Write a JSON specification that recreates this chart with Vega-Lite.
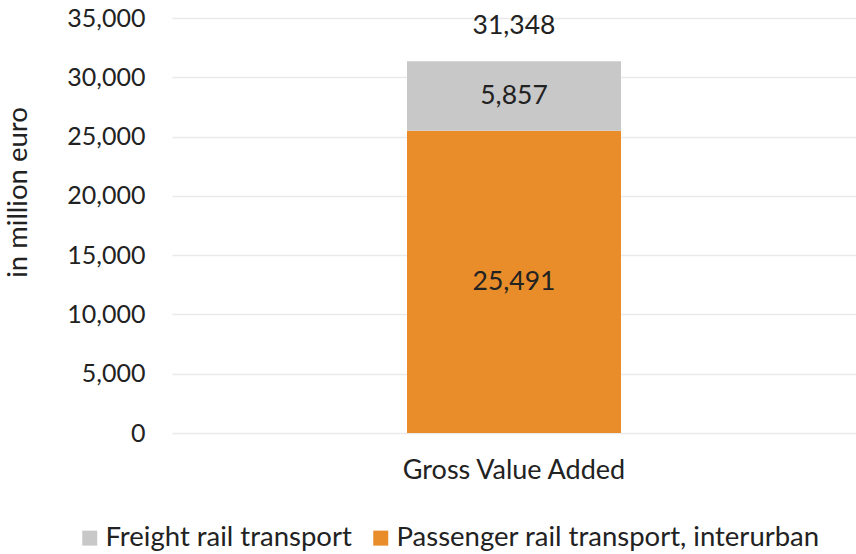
{
  "$schema": "https://vega.github.io/schema/vega-lite/v6.json",
  "autosize": "none",
  "width": 684,
  "height": 415,
  "padding": {"left": 172, "top": 18, "right": 0, "bottom": 121},
  "background": "white",
  "config": {
    "font": "Lato",
    "view": {"stroke": null},
    "axis": {"labelFont": "Lato", "titleFont": "Lato", "labelColor": "#222222", "titleColor": "#222222"}
  },
  "data": {
    "values": [
      {"category": "Gross Value Added", "series": "Passenger rail transport, interurban", "value": 25491},
      {"category": "Gross Value Added", "series": "Freight rail transport", "value": 5857}
    ]
  },
  "encoding": {
    "x": {
      "field": "category",
      "type": "nominal",
      "title": null,
      "axis": {"labelAngle": 0, "labelFontSize": 27, "labelPadding": 24, "labelLimit": 0, "ticks": false, "domain": false}
    }
  },
  "layer": [
    {
      "mark": {"type": "bar", "size": 214},
      "encoding": {
        "y": {
          "field": "value",
          "type": "quantitative",
          "stack": "zero",
          "scale": {"domain": [0, 35000], "nice": false},
          "title": "in million euro",
          "axis": {
            "values": [0, 5000, 10000, 15000, 20000, 25000, 30000, 35000],
            "format": ",d",
            "labelFontSize": 25,
            "labelPadding": 27,
            "ticks": false,
            "domain": false,
            "gridColor": "#eaeaea",
            "gridWidth": 1.5,
            "titleFontSize": 27.5,
            "titleFontWeight": "normal",
            "titleX": -154,
            "titleY": 174,
            "titleAngle": -90,
            "titleBaseline": "middle",
            "titleAlign": "center"
          }
        },
        "color": {
          "field": "series",
          "type": "nominal",
          "scale": {
            "domain": ["Freight rail transport", "Passenger rail transport, interurban"],
            "range": ["#C8C8C8", "#E88D29"]
          },
          "legend": {
            "title": null,
            "orient": "none",
            "direction": "horizontal",
            "legendX": -96,
            "legendY": 506,
            "symbolType": "square",
            "symbolSize": 225,
            "symbolStrokeWidth": 0,
            "labelFontSize": 27.5,
            "labelLimit": 0,
            "labelColor": "#222222",
            "labelOffset": 2,
            "columnPadding": 15
          }
        },
        "order": {"field": "series", "sort": "descending"}
      }
    },
    {
      "mark": {"type": "rule", "color": "#d9d9d9", "strokeWidth": 1.5},
      "encoding": {"y": {"datum": 0, "type": "quantitative"}, "x": {"value": 0}, "x2": {"width": 1}}
    },
    {
      "mark": {"type": "text", "fontSize": 26.5, "color": "#222222", "baseline": "middle"},
      "encoding": {
        "y": {"field": "value", "type": "quantitative", "stack": "zero", "bandPosition": 0.5},
        "detail": {"field": "series"},
        "order": {"field": "series", "sort": "descending"},
        "text": {"field": "value", "type": "quantitative", "format": ",d"}
      }
    },
    {
      "transform": [{"aggregate": [{"op": "sum", "field": "value", "as": "total"}], "groupby": ["category"]}],
      "mark": {"type": "text", "fontSize": 26.5, "color": "#222222", "baseline": "middle", "dy": -35},
      "encoding": {
        "y": {"field": "total", "type": "quantitative"},
        "text": {"field": "total", "type": "quantitative", "format": ",d"}
      }
    }
  ]
}
